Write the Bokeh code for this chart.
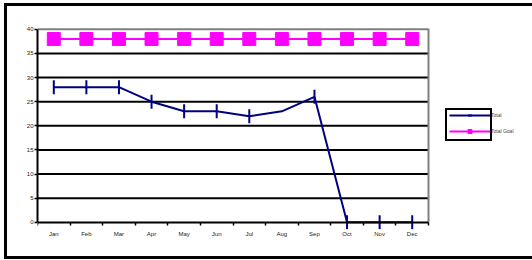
import math
from bokeh.plotting import figure
from bokeh.models import (ColumnDataSource, FixedTicker, Legend, LegendItem,
                          Range1d, InlineStyleSheet, LinearAxis)
from bokeh.embed import file_html
from bokeh.resources import INLINE

months = ["Jan", "Feb", "Mar", "Apr", "May", "Jun", "Jul", "Aug", "Sep", "Oct", "Nov", "Dec"]
total = [28, 28, 28, 25, 23, 23, 22, 23, 26, 0, 0, 0]
total_goal = [38, 38, 38, 38, 38, 38, 38, 38, 38, 38, 38, 38]
months_without_marker = ["Aug"]
y_ticks = [0, 5, 10, 15, 20, 25, 30, 35, 40]

n = len(months)
y_min, y_max = y_ticks[0], y_ticks[-1]
xs = [i + 0.5 for i in range(n)]
boundaries = list(range(n + 1))
total_marker = [float("nan") if m in months_without_marker else v for m, v in zip(months, total)]

src = ColumnDataSource(dict(x=xs, total=total, total_marker=total_marker, goal=total_goal))

# frame spans plot area + legend area (so legend and markers on 0 are not clipped)
plot_w, frame_w = 391, 495
p = figure(width=532, height=260, output_backend="svg", toolbar_location=None,
           x_range=Range1d(0, n * frame_w / plot_w), y_range=Range1d(y_min - 1.5, y_max + 1),
           min_border_left=37, min_border_right=0, min_border_top=24, min_border_bottom=31)
p.background_fill_color = "white"
p.border_fill_color = "white"
p.outline_line_color = None
p.xgrid.grid_line_color = None
p.ygrid.grid_line_color = None

# gridlines and plot-area border
grid_vals = y_ticks[1:-1]
p.segment(x0=[0] * len(grid_vals), x1=[n] * len(grid_vals), y0=grid_vals, y1=grid_vals,
          line_color="black", line_width=2)
p.line(x=[0, n, n], y=[y_max, y_max, y_min], line_color="#808080", line_width=2)

p.yaxis.ticker = FixedTicker(ticks=y_ticks)
p.yaxis.bounds = (y_min, y_max)
p.yaxis.axis_line_color = "black"
p.yaxis.axis_line_width = 2
p.yaxis.major_tick_line_color = "black"
p.yaxis.major_tick_line_width = 1.5
p.yaxis.major_tick_out = 3
p.yaxis.major_tick_in = 0
p.yaxis.minor_tick_line_color = None
p.yaxis.major_label_text_font = "Liberation Sans"
p.yaxis.major_label_text_font_size = "6px"
p.yaxis.major_label_text_color = "#222222"
p.yaxis.major_label_standoff = 1

# month labels axis (at the frame bottom, labels only)
p.xaxis.ticker = FixedTicker(ticks=xs)
p.xaxis.major_label_overrides = {x: m for x, m in zip(xs, months)}
p.xaxis.axis_line_color = None
p.xaxis.major_tick_line_color = None
p.xaxis.minor_tick_line_color = None
p.xaxis.major_tick_out = 0
p.xaxis.major_tick_in = 0
p.xaxis.major_label_text_font = "Liberation Sans"
p.xaxis.major_label_text_font_size = "6px"
p.xaxis.major_label_text_color = "#222222"
p.xaxis.major_label_standoff = 1

# axis line and boundary ticks at y = 0
zero_axis = LinearAxis(fixed_location=y_min, bounds=(0, n),
                       ticker=FixedTicker(ticks=xs, minor_ticks=boundaries))
zero_axis.axis_line_color = "black"
zero_axis.axis_line_width = 2
zero_axis.major_tick_line_color = None
zero_axis.major_tick_out = 0
zero_axis.major_tick_in = 0
zero_axis.minor_tick_line_color = "black"
zero_axis.minor_tick_line_width = 1.5
zero_axis.minor_tick_out = 3
zero_axis.minor_tick_in = 0
zero_axis.major_label_text_color = None
zero_axis.major_label_text_font_size = "1px"
zero_axis.major_label_standoff = 0
p.add_layout(zero_axis, "below")

navy = "#000080"
magenta = "#FF00FF"
l1 = p.line("x", "total", source=src, line_color=navy, line_width=2)
m1 = p.scatter("x", "total_marker", source=src, marker="dash", angle=math.pi / 2,
               size=14, line_color=navy, line_width=2)
l2 = p.line("x", "goal", source=src, line_color=magenta, line_width=2)
m2 = p.scatter("x", "goal", source=src, marker="square", size=13,
               line_color=magenta, fill_color=magenta)

legend = Legend(items=[LegendItem(label="Total", renderers=[l1, m1]),
                       LegendItem(label="Total Goal", renderers=[l2, m2])],
                location=(412, 93), orientation="vertical")
legend.border_line_color = None
legend.background_fill_alpha = 0
legend.glyph_width = 41
legend.glyph_height = 10
legend.label_standoff = 1
legend.spacing = 6
legend.padding = 0
legend.margin = 0
legend.label_text_font = "Liberation Sans"
legend.label_text_font_size = "5px"
legend.label_height = 10
legend.label_text_baseline = "middle"
p.add_layout(legend, "center")

# Excel-style chart border and legend box (drawn as CSS boxes over the canvas)
p.stylesheets = [InlineStyleSheet(css="""
:host::before {
  content: ""; position: absolute; z-index: 10; pointer-events: none;
  left: 445px; top: 108px; width: 47px; height: 33px;
  border: 2px solid black; box-sizing: border-box;
}
:host::after {
  content: ""; position: absolute; z-index: 10; pointer-events: none;
  left: 4px; top: 3px; width: 528px; height: 256px;
  border: 3px solid black; border-right: none; box-sizing: border-box;
}
""")]

open("out.html", "w").write(file_html(p, INLINE))
